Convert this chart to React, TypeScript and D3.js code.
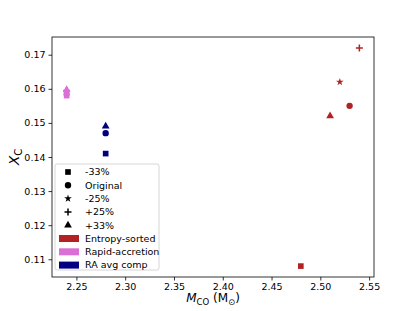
import React, { useEffect, useRef } from 'react';
import * as d3 from 'd3';

const groups = ['Entropy-sorted', 'Rapid-accretion', 'RA avg comp'];
const groupColors = ['#b22222', '#da70d6', '#000080'];
const variants = ['-33%', 'Original', '-25%', '+25%', '+33%'];
const variantShapes = ['square', 'circle', 'star', 'plus', 'triangle'];

// [group, variant, M_CO, X_C]
const points: [number, number, number, number][] = [
  [0, 0, 2.48, 0.108],
  [0, 1, 2.53, 0.155],
  [0, 2, 2.52, 0.162],
  [0, 3, 2.54, 0.172],
  [0, 4, 2.51, 0.152],
  [1, 0, 2.24, 0.158],
  [1, 1, 2.24, 0.1585],
  [1, 2, 2.24, 0.159],
  [1, 3, 2.24, 0.1595],
  [1, 4, 2.24, 0.1597],
  [2, 0, 2.28, 0.141],
  [2, 1, 2.28, 0.147],
  [2, 4, 2.28, 0.149],
];

const xTicks = [2.25, 2.3, 2.35, 2.4, 2.45, 2.5, 2.55];
const yTicks = [0.11, 0.12, 0.13, 0.14, 0.15, 0.16, 0.17];

const W = 415;
const H = 311;
const margin = { left: 52, right: 41, top: 37, bottom: 34 };

function symbolFor(shape: string, size: number) {
  const map: Record<string, d3.SymbolType> = {
    square: d3.symbolSquare,
    circle: d3.symbolCircle,
    star: d3.symbolStar,
    triangle: d3.symbolTriangle,
  };
  return d3.symbol(map[shape] || d3.symbolSquare, size)();
}

function drawMarker(g: d3.Selection<SVGGElement, unknown, null, undefined>, shape: string, x: number, y: number, color: string) {
  if (shape === 'plus') {
    g.append('path')
      .attr('d', `M${x - 3.5},${y}H${x + 3.5}M${x},${y - 3.5}V${y + 3.5}`)
      .attr('stroke', color)
      .attr('stroke-width', 1.5)
      .attr('fill', 'none');
  } else {
    const size = shape === 'star' ? 18 : shape === 'triangle' ? 26 : 32;
    g.append('path')
      .attr('d', symbolFor(shape, size))
      .attr('transform', `translate(${x},${y})`)
      .attr('fill', color);
  }
}

export default function App() {
  const ref = useRef<SVGSVGElement>(null);

  useEffect(() => {
    const root = d3.select(ref.current);
    root.selectAll('*').remove();
    const width = W - margin.left - margin.right;
    const height = H - margin.top - margin.bottom;
    const font = 'DejaVu Sans';

    const x = d3.scaleLinear().domain([2.225, 2.555]).range([0, width]);
    const y = d3.scaleLinear().domain([0.1048, 0.1752]).range([height, 0]);

    const svg = root.append('g').attr('transform', `translate(${margin.left},${margin.top})`);

    points.forEach(([gi, vi, mx, xc]) => {
      drawMarker(svg as any, variantShapes[vi], x(mx), y(xc), groupColors[gi]);
    });

    const xAxis = svg.append('g')
      .attr('transform', `translate(0,${height})`)
      .call(d3.axisBottom(x).tickValues(xTicks).tickFormat(d3.format('.2f')).tickSizeOuter(0).tickSize(3.5).tickPadding(3));
    const yAxis = svg.append('g')
      .call(d3.axisLeft(y).tickValues(yTicks).tickFormat(d3.format('.2f')).tickSizeOuter(0).tickSize(3.5).tickPadding(3));
    [xAxis, yAxis].forEach(a => {
      a.select('.domain').remove();
      a.selectAll('text').style('font-family', font).style('font-size', '9.5px').attr('fill', '#000');
      a.selectAll('line').attr('stroke', '#000').attr('stroke-width', 0.8);
    });

    svg.append('rect')
      .attr('width', width)
      .attr('height', height)
      .attr('fill', 'none')
      .attr('stroke', '#000')
      .attr('stroke-width', 0.8);

    // axis labels
    const xl = svg.append('text')
      .attr('x', width / 2)
      .attr('y', height + 25)
      .attr('text-anchor', 'middle')
      .style('font-family', font)
      .style('font-size', '12px');
    xl.append('tspan').attr('font-style', 'italic').text('M');
    xl.append('tspan').attr('dy', 3).style('font-size', '8.5px').text('CO');
    xl.append('tspan').attr('dy', -3).text(' (M');
    xl.append('tspan').attr('dy', 3).style('font-size', '8.5px').text('⊙');
    xl.append('tspan').attr('dy', -3).text(')');

    const yl = svg.append('text')
      .attr('transform', `translate(-33,${height / 2}) rotate(-90)`)
      .attr('text-anchor', 'middle')
      .style('font-family', font)
      .style('font-size', '14px');
    yl.append('tspan').attr('font-style', 'italic').text('X');
    yl.append('tspan').attr('dy', 3).style('font-size', '10px').text('C');

    // legend
    const lg = svg.append('g').attr('transform', `translate(3,${height - 113})`);
    lg.append('rect')
      .attr('width', 104)
      .attr('height', 106)
      .attr('rx', 2)
      .attr('fill', '#fff')
      .attr('fill-opacity', 0.8)
      .attr('stroke', '#ccc')
      .attr('stroke-width', 0.8);
    const rowH = 13.3;
    variants.forEach((v, i) => {
      const ry = 8 + i * rowH;
      drawMarker(lg as any, variantShapes[i], 13, ry, '#000');
      lg.append('text')
        .attr('x', 30)
        .attr('y', ry)
        .attr('dy', '0.35em')
        .style('font-family', font)
        .style('font-size', '9.5px')
        .text(v);
    });
    groups.forEach((gname, i) => {
      const ry = 8 + (variants.length + i) * rowH;
      lg.append('rect')
        .attr('x', 4)
        .attr('y', ry - 3.5)
        .attr('width', 20)
        .attr('height', 7)
        .attr('fill', groupColors[i]);
      lg.append('text')
        .attr('x', 30)
        .attr('y', ry)
        .attr('dy', '0.35em')
        .style('font-family', font)
        .style('font-size', '9.5px')
        .text(gname);
    });
  }, []);

  return <svg ref={ref} width={W} height={H} style={{ position: 'absolute', left: 0, top: 0, background: '#fff' }} />;
}
